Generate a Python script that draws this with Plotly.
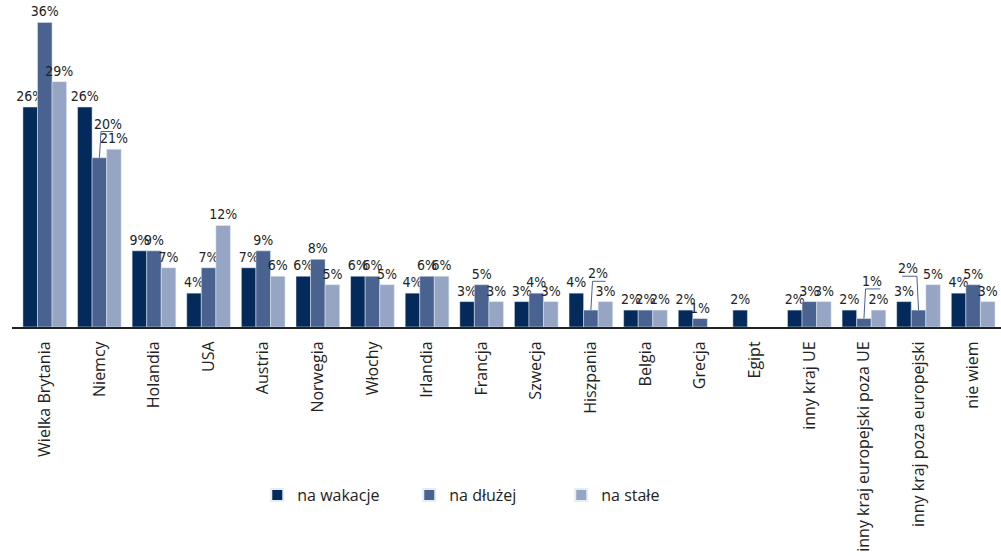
import plotly.graph_objects as go

categories = ["Wielka Brytania", "Niemcy", "Holandia", "USA", "Austria", "Norwegia",
              "Włochy", "Irlandia", "Francja", "Szwecja", "Hiszpania", "Belgia",
              "Grecja", "Egipt", "inny kraj UE", "inny kraj europejski poza UE",
              "inny kraj poza europejski", "nie wiem"]
series_names = ["na wakacje", "na dłużej", "na stałe"]
na_wakacje = [26, 26, 9, 4, 7, 6, 6, 4, 3, 3, 4, 2, 2, 2, 2, 2, 3, 4]
na_dluzej = [36, 20, 9, 7, 9, 8, 6, 6, 5, 4, 2, 2, 1, None, 3, 1, 2, 5]
na_stale = [29, 21, 7, 12, 6, 5, 5, 6, 3, 3, 3, 2, None, None, 3, 2, 5, 3]
colors = ["#032a5a", "#4a6290", "#97a5c4"]

# labels of "na dłużej" moved up with a leader line: (category index, dx of elbow end, dy, label dx)
leaders = [(1, 0.25, 3.1, 0.16), (10, 0.27, 3.4, 0.13), (15, 0.30, 3.5, 0.15), (16, -0.30, 4.0, -0.19)]
moved = {i for i, *_ in leaders}

FONT = "Open Sans, sans-serif"
LFONT = "Liberation Sans Narrow, DejaVu Sans Condensed, sans-serif"

fig = go.Figure()
for j, (name, vals) in enumerate(zip(series_names, [na_wakacje, na_dluzej, na_stale])):
    texts = []
    for i, v in enumerate(vals):
        if v is None or (j == 1 and i in moved):
            texts.append("")
        else:
            texts.append(f"{v}%")
    fig.add_trace(go.Bar(
        x=categories, y=vals, name=name, marker_color=colors[j],
        text=texts, textposition="outside", constraintext="none", cliponaxis=False,
        textfont=dict(size=14, color="#222222", family=LFONT),
    ))

shapes = []
annotations = []
for i, dx, dy, ldx in leaders:
    v = na_dluzej[i]
    xc = i  # "na dłużej" is the middle bar of each group
    elbow = xc + (0.03 if dx > 0 else -0.03)
    shapes.append(dict(type="line", xref="x", yref="y", x0=xc, y0=v, x1=elbow, y1=v + dy,
                       line=dict(color=colors[1], width=1)))
    shapes.append(dict(type="line", xref="x", yref="y", x0=elbow, y0=v + dy, x1=xc + dx, y1=v + dy,
                       line=dict(color=colors[1], width=1)))
    annotations.append(dict(x=xc + ldx, y=v + dy, xref="x", yref="y", text=f"{v}%",
                            showarrow=False, yanchor="bottom", yshift=-2,
                            font=dict(size=14, color="#222222", family=LFONT)))

fig.update_layout(
    width=1001, height=556,
    margin=dict(l=12, r=0, t=0, b=229),
    plot_bgcolor="white", paper_bgcolor="white",
    barmode="group", bargap=0.2, bargroupgap=0,
    font=dict(family=FONT, size=16, color="#222222"),
    shapes=shapes, annotations=annotations,
    legend=dict(orientation="h", x=0.248, xanchor="left", y=-0.514, yanchor="middle",
                font=dict(size=16, family=FONT), entrywidth=107, entrywidthmode="pixels",
                itemsizing="constant"),
    showlegend=True,
)
fig.update_xaxes(type="category", range=[-0.6, 17.51], showline=True, linecolor="#222222",
                 linewidth=2, ticks="", tickangle=-90, showgrid=False, ticklabelstandoff=6,
                 tickfont=dict(size=16, family=FONT, color="#222222"))
fig.update_yaxes(range=[0, 38.65], visible=False, showgrid=False, zeroline=False)

fig.write_html("out.html", config={"displayModeBar": False})
with open("out.html", encoding="utf-8") as f:
    html = f.read()
html = html.replace("<head>", "<head><style>html,body{margin:0;padding:0;overflow:hidden}</style>", 1)
with open("out.html", "w", encoding="utf-8") as f:
    f.write(html)
